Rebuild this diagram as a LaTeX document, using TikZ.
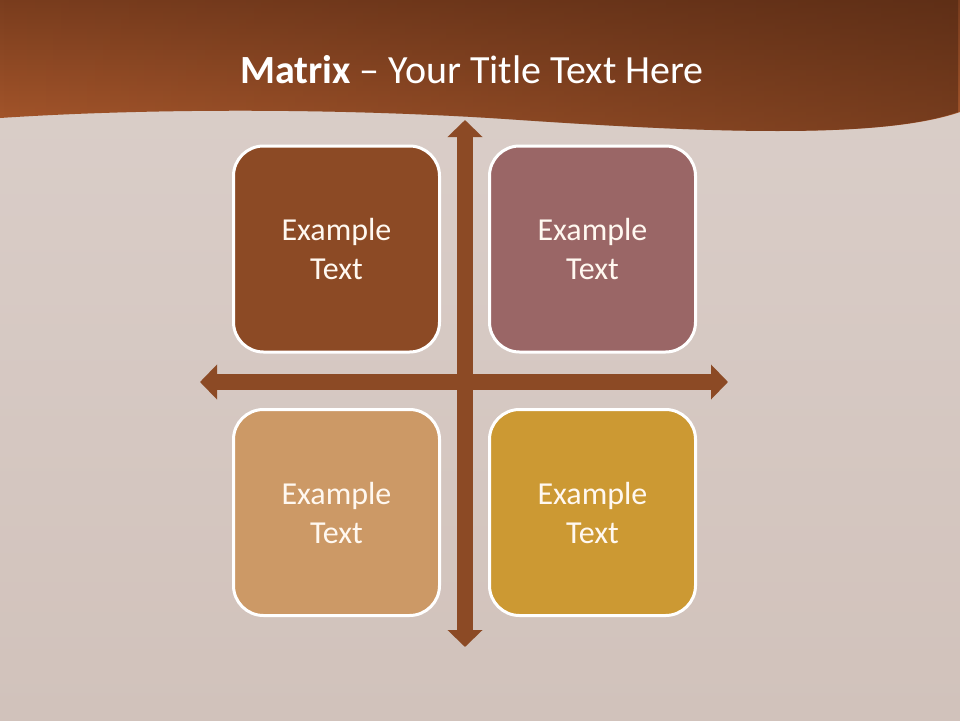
\documentclass[tikz,border=0pt]{standalone}
\usepackage{fontspec}
\setmainfont{Carlito}
\usetikzlibrary{arrows.meta,fadings}
\definecolor{bgtop}{HTML}{DBCFCA}
\definecolor{bgbot}{HTML}{D1C2BB}
\definecolor{hdrlight}{HTML}{A9582C}
\definecolor{hdrtop}{HTML}{7A3D1E}
\definecolor{hdrdark}{HTML}{3E1E0E}
\definecolor{arrowc}{HTML}{8C4A25}
\definecolor{cTL}{HTML}{8C4A25}
\definecolor{cTR}{HTML}{9A6666}
\definecolor{cBL}{HTML}{CC9966}
\definecolor{cBR}{HTML}{CC9933}
\definecolor{txt}{HTML}{FFF8F0}
\tikzset{
  box/.style={draw=white, line width=3pt, rounded corners=30pt,
    minimum width=206pt, minimum height=206pt, align=center,
    text=txt, font=\fontsize{32}{39}\selectfont, inner sep=0pt},
  axis/.style={draw=arrowc, line width=16pt,
    {Triangle[width=34pt,length=17pt]}-{Triangle[width=34pt,length=17pt]}},
  hdr/.style={insert path={(0,0) -- (960,0) -- (960,112)
  .. controls (880,140) and (700,132) .. (520,120)
  .. controls (350,108) and (150,108) .. (0,118) -- cycle}}
}
\begin{document}
\begin{tikzpicture}[x=1pt,y=-1pt]
\useasboundingbox (0,0) rectangle (960,720);
\shade[top color=bgtop, bottom color=bgbot] (0,0) rectangle (960,720);
% header band
\shade[top color=hdrtop, bottom color=hdrlight] [hdr];
\fill[hdrdark, fill opacity=0.45, path fading=west] [hdr];
\node[text=white, font=\fontsize{40}{48}\selectfont, anchor=center] (title) at (472,70)
  {\textbf{Matrix} – Your Title Text Here};
% axes
\coordinate (vt) at (465,120);
\coordinate (vb) at (465,647);
\coordinate (hl) at (200,382);
\coordinate (hr) at (728,382);
\draw[axis] (vt) -- (vb);
\draw[axis] (hl) -- (hr);
% boxes
\node[box, fill=cTL] (tl) at (336.5,249) {Example\\Text};
\node[box, fill=cTR] (tr) at (592.5,249) {Example\\Text};
\node[box, fill=cBL] (bl) at (336.5,512.5) {Example\\Text};
\node[box, fill=cBR] (br) at (592.5,512.5) {Example\\Text};
\end{tikzpicture}
\end{document}
